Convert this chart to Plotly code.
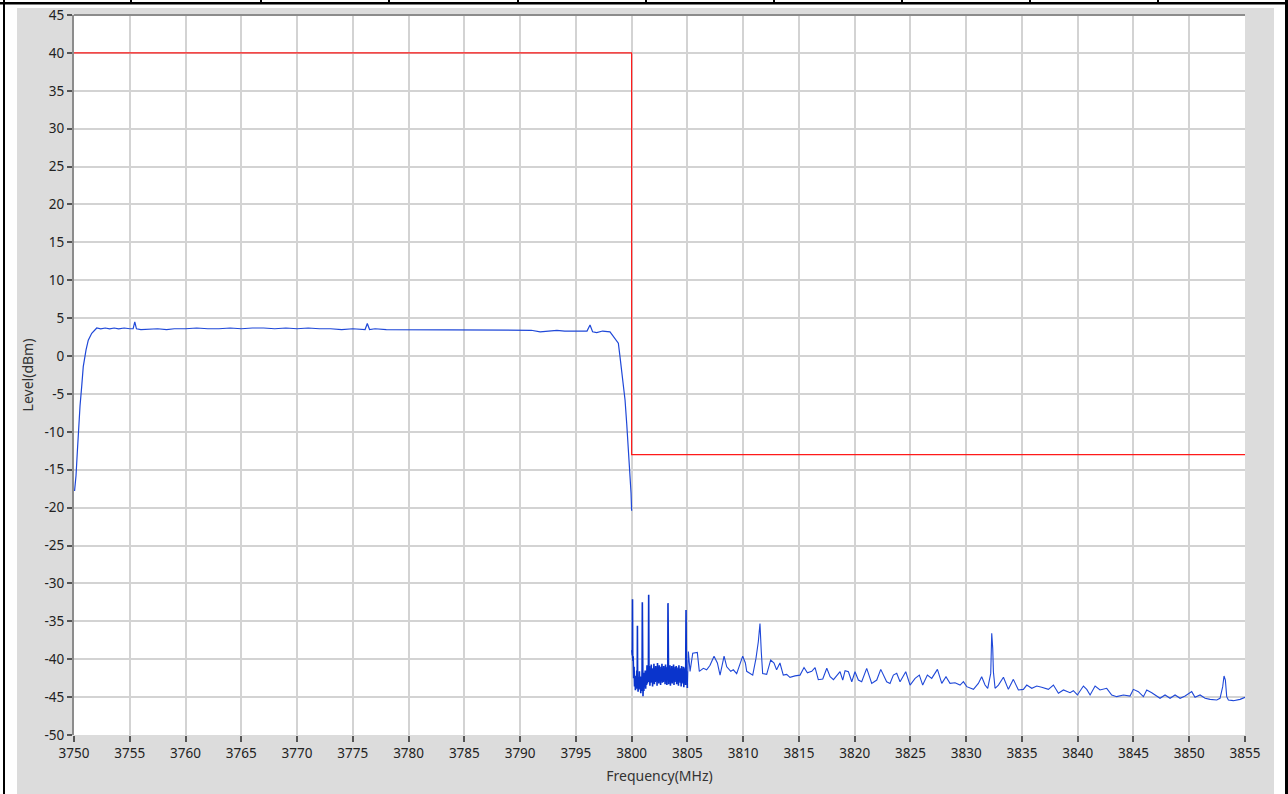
import plotly.graph_objects as go

# ---- Measured spectrum (frequency in MHz, level in dBm) ----
# In-band sweep, 3750 - 3800 MHz
inband = [
    (3750.05, -17.8), (3750.18, -15.8), (3750.30, -12.6), (3750.39, -9.8),
    (3750.54, -6.6), (3750.69, -4.0), (3750.83, -1.4), (3751.08, 0.8),
    (3751.28, 2.1), (3751.59, 3.0), (3751.88, 3.5), (3752.04, 3.7),
    (3752.4, 3.6), (3752.8, 3.7), (3753.2, 3.6), (3753.6, 3.7),
    (3754.0, 3.6), (3754.5, 3.7), (3755.0, 3.6), (3755.3, 3.6),
    (3755.45, 4.5), (3755.6, 3.6), (3756.0, 3.5), (3756.8, 3.6),
    (3757.5, 3.6), (3758.3, 3.5), (3759.0, 3.6), (3760.0, 3.6),
    (3761.0, 3.7), (3762.0, 3.6), (3763.0, 3.6), (3764.0, 3.7),
    (3765.0, 3.6), (3766.0, 3.7), (3767.0, 3.7), (3768.0, 3.6),
    (3769.0, 3.7), (3770.0, 3.6), (3771.0, 3.7), (3772.0, 3.6),
    (3773.0, 3.6), (3774.0, 3.5), (3775.0, 3.6), (3776.1, 3.5),
    (3776.3, 4.3), (3776.5, 3.5), (3777.0, 3.6), (3778.0, 3.5),
    (3779.0, 3.5), (3780.0, 3.4), (3781.0, 3.5), (3782.0, 3.5),
    (3783.0, 3.4), (3784.0, 3.5), (3785.0, 3.4), (3786.0, 3.4),
    (3787.0, 3.5), (3788.0, 3.4), (3789.0, 3.4), (3790.0, 3.4),
    (3791.0, 3.4), (3791.8, 3.2), (3792.5, 3.3), (3793.3, 3.4),
    (3794.0, 3.3), (3795.0, 3.3), (3796.0, 3.3), (3796.27, 4.1),
    (3796.5, 3.2), (3796.87, 3.1), (3797.4, 3.3), (3798.06, 3.2),
    (3798.51, 2.3), (3798.81, 1.7), (3798.96, -0.1), (3799.11, -1.8),
    (3799.26, -4.0), (3799.41, -5.8), (3799.56, -8.9), (3799.70, -12.0),
    (3799.86, -15.0), (3799.95, -18.1), (3800.00, -20.4),
]

# Out-of-band sweep, 3800 - 3805 MHz (fine resolution)
near_band = [
    (3800.02, -38.8), (3800.06, -39.5), (3800.08, -32.1), (3800.10, -40.2),
    (3800.14, -39.6), (3800.18, -42.5), (3800.22, -41.0), (3800.26, -43.6),
    (3800.30, -42.2), (3800.34, -44.1), (3800.38, -42.6), (3800.42, -43.9),
    (3800.46, -41.5), (3800.50, -43.2), (3800.52, -35.6), (3800.54, -42.8),
    (3800.58, -44.3), (3800.62, -42.4), (3800.66, -43.8), (3800.70, -41.6),
    (3800.74, -44.0), (3800.78, -42.3), (3800.82, -44.5), (3800.86, -42.7),
    (3800.90, -44.2), (3800.94, -41.2), (3800.96, -32.5), (3800.98, -43.5),
    (3801.02, -44.9), (3801.06, -42.6), (3801.10, -44.2), (3801.14, -41.8),
    (3801.18, -43.6), (3801.22, -41.5), (3801.26, -43.9), (3801.30, -42.0),
    (3801.34, -43.4), (3801.38, -40.8), (3801.42, -43.2), (3801.46, -41.6),
    (3801.50, -43.0), (3801.53, -31.5), (3801.56, -42.8), (3801.60, -40.9),
    (3801.64, -43.5), (3801.68, -41.7), (3801.72, -43.1), (3801.76, -40.7),
    (3801.80, -42.9), (3801.84, -41.2), (3801.88, -43.6), (3801.92, -41.4),
    (3801.96, -42.8), (3802.00, -40.6), (3802.04, -43.3), (3802.08, -41.5),
    (3802.12, -43.0), (3802.16, -40.9), (3802.20, -42.7), (3802.24, -41.3),
    (3802.28, -43.5), (3802.32, -40.5), (3802.36, -42.6), (3802.40, -41.8),
    (3802.44, -43.2), (3802.48, -40.8), (3802.52, -42.9), (3802.56, -41.4),
    (3802.60, -43.4), (3802.64, -41.0), (3802.68, -42.8), (3802.72, -40.6),
    (3802.76, -43.1), (3802.80, -41.6), (3802.84, -43.0), (3802.88, -40.9),
    (3802.92, -42.5), (3802.96, -41.3), (3803.00, -43.3), (3803.04, -40.7),
    (3803.08, -42.9), (3803.12, -41.2), (3803.16, -43.4), (3803.20, -41.0),
    (3803.24, -42.6), (3803.26, -32.6), (3803.28, -42.2), (3803.32, -43.3),
    (3803.36, -41.1), (3803.40, -42.9), (3803.44, -40.8), (3803.48, -43.5),
    (3803.52, -41.5), (3803.56, -42.7), (3803.60, -40.9), (3803.64, -43.2),
    (3803.68, -41.3), (3803.72, -42.8), (3803.76, -40.7), (3803.80, -43.4),
    (3803.84, -41.6), (3803.88, -43.0), (3803.92, -41.0), (3803.96, -42.6),
    (3804.00, -40.9), (3804.04, -43.3), (3804.08, -41.4), (3804.12, -42.9),
    (3804.16, -41.1), (3804.20, -43.5), (3804.24, -40.8), (3804.28, -42.7),
    (3804.32, -41.5), (3804.36, -43.1), (3804.40, -41.2), (3804.44, -43.6),
    (3804.48, -40.9), (3804.52, -42.8), (3804.56, -41.4), (3804.60, -43.2),
    (3804.64, -41.0), (3804.68, -43.7), (3804.72, -41.3), (3804.76, -42.9),
    (3804.80, -41.1), (3804.84, -43.4), (3804.88, -33.5), (3804.92, -43.0),
    (3804.96, -41.6), (3805.00, -43.8),
]

# Out-of-band sweep, 3805 - 3855 MHz (coarse resolution)
far_band = [
    (3805.00, -43.8),
    (3805.09, -39.0), (3805.24, -41.6), (3805.48, -39.2), (3805.89, -39.1),
    (3806.07, -41.6), (3806.43, -41.2), (3806.73, -41.4), (3807.03, -40.8),
    (3807.39, -39.6), (3807.69, -40.5), (3807.93, -42.1), (3808.29, -39.6),
    (3808.53, -41.0), (3808.89, -41.6), (3809.12, -41.4), (3809.42, -41.9),
    (3809.96, -39.6), (3810.20, -40.5), (3810.32, -41.6), (3810.86, -42.1),
    (3811.15, -39.9), (3811.36, -37.7), (3811.51, -35.3), (3811.63, -39.1),
    (3811.75, -41.9), (3812.11, -42.0), (3812.47, -40.1), (3812.77, -40.5),
    (3813.00, -41.4), (3813.30, -40.5), (3813.60, -42.1), (3813.90, -42.0),
    (3814.20, -42.4), (3814.65, -42.2), (3815.10, -42.1), (3815.46, -41.1),
    (3815.76, -41.8), (3816.15, -41.6), (3816.45, -41.1), (3816.74, -42.7),
    (3817.14, -42.6), (3817.50, -41.2), (3817.80, -42.3), (3818.10, -42.7),
    (3818.40, -42.1), (3818.69, -41.65), (3818.93, -42.75), (3819.14, -41.51),
    (3819.44, -41.65), (3819.74, -42.97), (3820.03, -41.65), (3820.33, -42.75),
    (3820.63, -42.97), (3821.08, -41.21), (3821.53, -43.19), (3821.98, -42.75),
    (3822.34, -41.34), (3822.87, -42.97), (3823.17, -43.19), (3823.47, -42.09),
    (3823.77, -41.87), (3824.07, -42.97), (3824.58, -41.65), (3824.97, -43.41),
    (3825.42, -42.53), (3825.80, -42.09), (3826.10, -43.41), (3826.52, -42.09),
    (3826.91, -42.53), (3827.42, -41.34), (3827.81, -43.19), (3828.19, -42.31),
    (3828.55, -43.19), (3829.00, -43.10), (3829.45, -43.41), (3829.75, -42.97),
    (3830.05, -43.62), (3830.65, -43.98), (3831.09, -43.19), (3831.39, -42.31),
    (3831.69, -43.41), (3831.93, -43.84), (3832.20, -41.87), (3832.29, -36.59),
    (3832.38, -38.57), (3832.44, -41.65), (3832.59, -43.84), (3832.89, -43.41),
    (3833.34, -42.39), (3833.78, -43.98), (3834.23, -42.66), (3834.68, -44.06),
    (3835.13, -43.98), (3835.43, -43.41), (3835.88, -43.84), (3836.33, -43.54),
    (3836.77, -43.71), (3837.37, -43.98), (3837.82, -43.41), (3838.27, -44.50),
    (3838.72, -44.06), (3839.31, -44.42), (3839.61, -44.15), (3839.97, -44.72),
    (3840.51, -43.54), (3840.81, -43.98), (3841.11, -44.72), (3841.56, -43.54),
    (3842.00, -44.06), (3842.60, -43.84), (3843.05, -44.72), (3843.50, -44.94),
    (3844.10, -44.72), (3844.69, -44.86), (3844.99, -43.98), (3845.44, -44.28),
    (3845.89, -44.94), (3846.19, -44.06), (3846.64, -44.42), (3847.09, -44.94),
    (3847.38, -45.16), (3847.83, -44.72), (3848.28, -45.16), (3848.73, -44.72),
    (3849.18, -45.16), (3849.63, -44.86), (3849.93, -44.50), (3850.22, -44.28),
    (3850.52, -45.03), (3850.97, -44.72), (3851.42, -45.16), (3851.87, -45.30),
    (3852.47, -45.38), (3852.76, -45.16), (3853.00, -43.62), (3853.12, -42.22),
    (3853.24, -42.75), (3853.36, -44.94), (3853.51, -45.38), (3853.96, -45.47),
    (3854.56, -45.30), (3855.00, -45.03),
]

# Emission limit mask
mask_freq = [3750, 3800, 3800, 3855]
mask_level = [40, 40, -13, -13]

# Axis ticks
x_ticks = list(range(3750, 3856, 5))
y_ticks = list(range(-50, 46, 5))

inband_freq, inband_level = zip(*inband)
near_freq, near_level = zip(*near_band)
far_freq, far_level = zip(*far_band)

TRACE_BLUE = "#1f48d8"
FONT = "Noto Sans, Open Sans, DejaVu Sans, sans-serif"

fig = go.Figure()
fig.add_trace(go.Scatter(x=mask_freq, y=mask_level, mode="lines",
                         line=dict(color="#ff1a1a", width=1.2), hoverinfo="skip"))
fig.add_trace(go.Scatter(x=inband_freq, y=inband_level, mode="lines",
                         line=dict(color=TRACE_BLUE, width=1.2)))
fig.add_trace(go.Scatter(x=far_freq, y=far_level, mode="lines",
                         line=dict(color=TRACE_BLUE, width=1.1)))
fig.add_trace(go.Scatter(x=near_freq, y=near_level, mode="lines",
                         line=dict(color="#0a34cc", width=1.6)))

# Page geometry (pixels)
W, H = 1288, 794
L, R, T, B = 74, 1245, 15, 735


def fx(p):
    return (p - L) / (R - L)


def fy(p):
    return (B - p) / (B - T)


def rect(x0, y0, x1, y1, color):
    return dict(type="rect", xref="paper", yref="paper",
                x0=fx(x0), x1=fx(x1), y0=fy(y1), y1=fy(y0),
                fillcolor=color, line=dict(width=0), layer="above")


shapes = [
    rect(0, 0, 17, H, "white"),
    rect(1274, 0, W, H, "white"),
    rect(0, 0, W, 8, "white"),
    rect(3, 0, 5, H, "black"),
    rect(1285, 0, W, H, "black"),
    rect(0, 2, W, 4.5, "black"),
]
for cx in [131, 261, 389, 518, 646, 774, 902, 1030, 1158]:
    shapes.append(rect(cx - 1, 0, cx + 1, 2, "black"))
# upper frame edge of the plot area
shapes.append(dict(type="line", xref="paper", yref="paper", x0=0, x1=1, y0=1, y1=1,
                   line=dict(color="#8c8c8c", width=2), layer="above"))

fig.update_layout(
    width=W, height=H,
    margin=dict(l=L, r=W - R, t=T, b=H - B, autoexpand=False),
    paper_bgcolor="#dcdcdc",
    plot_bgcolor="white",
    showlegend=False,
    font=dict(family=FONT, size=13, color="#222222"),
    shapes=shapes,
    xaxis=dict(
        range=[3750, 3855], tickvals=x_ticks, ticktext=[str(v) for v in x_ticks],
        showgrid=True, gridcolor="#d3d3d3", gridwidth=1.5,
        zeroline=False, showline=False,
        ticks="outside", ticklen=6, tickwidth=1.5, tickcolor="#555555",
        tickfont=dict(size=13.5, color="#222222"),
        title=dict(text="Frequency(MHz)", font=dict(size=14, color="#333333"), standoff=9),
    ),
    yaxis=dict(
        range=[-50, 45], tickvals=y_ticks, ticktext=[str(v) for v in y_ticks],
        showgrid=True, gridcolor="#d3d3d3", gridwidth=1.5,
        zeroline=False, showline=True, linecolor="#8c8c8c", linewidth=2,
        ticks="outside", ticklen=5, tickwidth=1.5, tickcolor="#555555",
        tickfont=dict(size=13.5, color="#222222"),
        title=dict(text="Level(dBm)", font=dict(size=14, color="#333333"), standoff=8),
    ),
)

fig.write_html("out.html")
